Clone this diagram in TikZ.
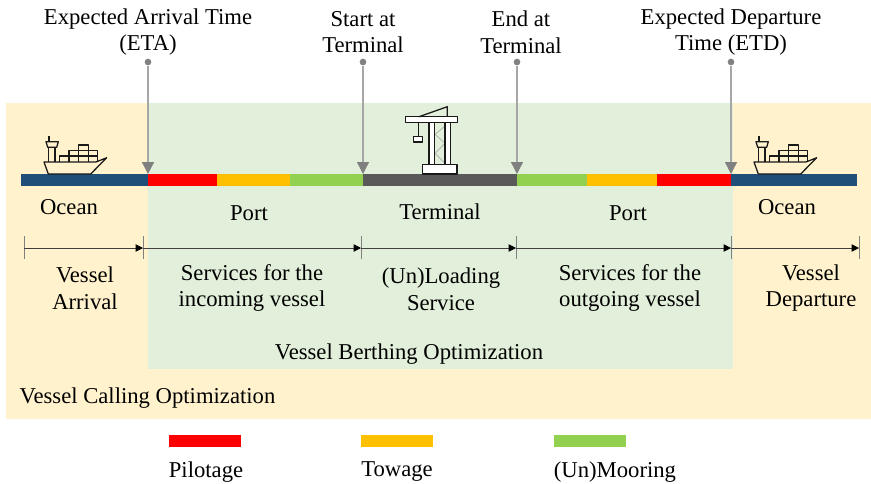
\documentclass[tikz,border=0pt]{standalone}
\usepackage{fontspec}
\setmainfont{Liberation Serif}
\usetikzlibrary{arrows.meta, positioning}
\definecolor{callbg}{HTML}{FFF2CC}
\definecolor{berthbg}{HTML}{E2EFDA}
\definecolor{oceanblue}{HTML}{1F4E79}
\definecolor{pilotred}{HTML}{FF0000}
\definecolor{towamber}{HTML}{FFC000}
\definecolor{moorgreen}{HTML}{92D050}
\definecolor{termgray}{HTML}{595959}
\definecolor{markgray}{HTML}{A6A6A6}
\tikzstyle{label} = [align=center, font=\fontsize{17}{20}\selectfont, inner sep=0pt]
\tikzstyle{segment} = [draw=none, minimum height=9pt, inner sep=0pt, outer sep=0pt, anchor=west]
\tikzstyle{marker} = [draw=markgray, line width=1pt, -{Triangle[length=9pt,width=9pt,color=gray]}]
\tikzstyle{dot} = [circle, fill=gray, inner sep=0pt, minimum size=5pt]
\tikzstyle{span} = [draw=black!75, line width=0.6pt, -{Triangle[length=5.5pt,width=5.5pt,black]}]
\tikzstyle{tick} = [draw=black!50, line width=0.6pt]
\tikzstyle{outline} = [draw=black!90, line width=0.95pt, line join=round]
\tikzstyle{swatch} = [minimum width=54pt, minimum height=9pt, inner sep=0pt]
\newcommand{\shipicon}[1]{
\begin{scope}[shift={(#1)}]
\draw[outline] (-25.7,0) -- (-30,-12) -- (22,-12) -- (32.7,-16.3) -- (16.7,0) -- cycle;
\draw[outline] (-25.7,-12) -- (-25.7,-26.7) (-19,-12) -- (-19,-26.7);
\draw[outline] (-28,-32.3) -- (-15.7,-32.3) -- (-17.3,-26.7) -- (-26.3,-26.7) -- cycle;
\draw[outline] (-25,-32.3) -- (-25,-38.3);
\draw[outline] (-14.7,-12) -- (-14.7,-18) -- (23.7,-18);
\draw[outline] (-5,-12) -- (-5,-23.3) -- (23.7,-23.3) -- (23.7,-12);
\draw[outline] (4.3,-12) -- (4.3,-29) -- (14.3,-29) -- (14.3,-12);
\end{scope}}
\begin{document}
\begin{tikzpicture}[x=0.75pt, y=-0.75pt]
\useasboundingbox (0,0) rectangle (871,483);
% backgrounds
\fill[callbg] (6,103) rectangle (871,419);
\fill[berthbg] (148,103) rectangle (733,369);
% bar along the route
\node (ocean1) [segment, fill=oceanblue, minimum width=95.25pt] at (21,180) {};
\node (pilot1) [segment, fill=pilotred, minimum width=51.75pt, right=0pt of ocean1] {};
\node (tow1) [segment, fill=towamber, minimum width=54.75pt, right=0pt of pilot1] {};
\node (moor1) [segment, fill=moorgreen, minimum width=54.75pt, right=0pt of tow1] {};
\node (term) [segment, fill=termgray, minimum width=115.5pt, right=0pt of moor1] {};
\node (moor2) [segment, fill=moorgreen, minimum width=52.5pt, right=0pt of term] {};
\node (tow2) [segment, fill=towamber, minimum width=52.5pt, right=0pt of moor2] {};
\node (pilot2) [segment, fill=pilotred, minimum width=55.5pt, right=0pt of tow2] {};
\node (ocean2) [segment, fill=oceanblue, minimum width=94.5pt, right=0pt of pilot2] {};
% ships
\shipicon{74,174}
\shipicon{784,174}
% crane
\draw[draw=black!30, line width=0.6pt] (445,126) -- (435,134.3) -- (445,143.3) -- (435,153.3) -- (445,163.3);
\draw[outline, fill=white] (422.3,164.3) rectangle (457,174);
\draw[outline, fill=white] (429,122) rectangle (434.3,164.3);
\draw[outline, fill=white] (445,122) rectangle (450.3,164.3);
\draw[outline, fill=white] (405.7,116.7) rectangle (457.7,122.3);
\draw[outline] (419,116.7) -- (447.3,106.7) -- (447.3,116.7);
\draw[outline] (418.3,122.3) -- (418.3,136.3);
\draw[outline, fill=white] (413.7,136.3) rectangle (422.7,142);
% markers from the top
\node (dot1) [dot] at (148,62) {};
\node (dot2) [dot] at (363,62) {};
\node (dot3) [dot] at (517,62) {};
\node (dot4) [dot] at (731,62) {};
\draw[marker] (dot1) -- (dot1 |- ocean1.north);
\draw[marker] (dot2) -- (dot2 |- ocean1.north);
\draw[marker] (dot3) -- (dot3 |- ocean1.north);
\draw[marker] (dot4) -- (dot4 |- ocean1.north);
\node (eta) [label] at (148,32) {Expected Arrival Time\\(ETA)};
\node (start) [label] at (363,32) {Start at\\Terminal};
\node (end) [label] at (521,32) {End at\\Terminal};
\node (etd) [label] at (731,32) {Expected Departure\\Time (ETD)};
% places
\node (lab1) [label] at (69,207) {Ocean};
\node (lab2) [label] at (249,213) {Port};
\node (lab3) [label] at (440,212) {Terminal};
\node (lab4) [label] at (628,213) {Port};
\node (lab5) [label] at (787,207) {Ocean};
% spans
\coordinate (t1) at (24,248);
\coordinate (t2) at (143,248);
\coordinate (t3) at (361,248);
\coordinate (t4) at (516,248);
\coordinate (t5) at (731,248);
\coordinate (t6) at (859,248);
\foreach \t in {t1,t2,t3,t4,t5,t6}
  \draw[tick] ([yshift=9pt]\t) -- ([yshift=-8pt]\t);
\draw[span] (t1) -- (t2);
\draw[span] (t2) -- (t3);
\draw[span] (t3) -- (t4);
\draw[span] (t4) -- (t5);
\draw[span] (t5) -- (t6);
\node (svc1) [label] at (85,288) {Vessel\\Arrival};
\node (svc2) [label] at (252,288) {Services for the\\incoming vessel};
\node (svc3) [label] at (441,289) {(Un)Loading\\Service};
\node (svc4) [label] at (630,288) {Services for the\\outgoing vessel};
\node (svc5) [label] at (811,288) {Vessel\\Departure};
\node (berth) [label] at (409,354) {Vessel Berthing Optimization};
\node (call) [label] at (147.5,398) {Vessel Calling Optimization};
% legend
\node (sw1) [swatch, fill=pilotred] at (205,441) {};
\node (sw2) [swatch, fill=towamber] at (397,441) {};
\node (sw3) [swatch, fill=moorgreen] at (590,441) {};
\node (leg1) [label] at (206,472) {Pilotage};
\node (leg2) [label] at (397,472) {Towage};
\node (leg3) [label] at (615,472) {(Un)Mooring};
\end{tikzpicture}
\end{document}
